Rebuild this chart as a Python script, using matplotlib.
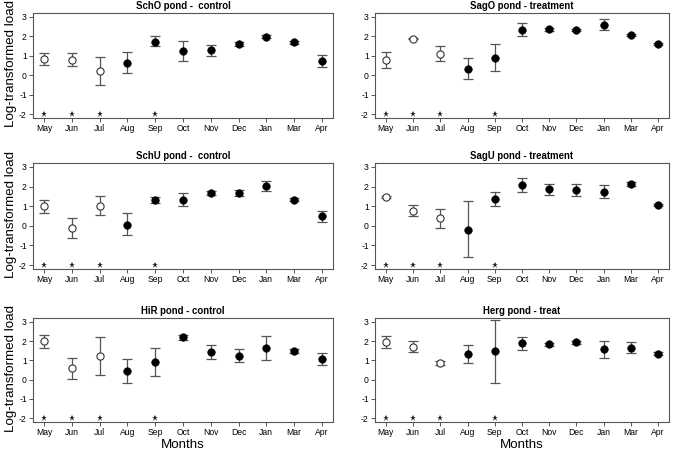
import matplotlib
matplotlib.use("Agg")
import matplotlib.pyplot as plt
import numpy as np

plt.rcParams['font.family'] = ['Liberation Sans', 'DejaVu Sans']
plt.rcParams['axes.unicode_minus'] = False

months = ["May", "Jun", "Jul", "Aug", "Sep", "Oct", "Nov", "Dec", "Jan", "Mar", "Apr"]
n_open = 3  # first three months shown as open circles
star_months = ["May", "Jun", "Jul", "Sep"]

titles = ["SchO pond -  control", "SagO pond - treatment",
          "SchU pond -  control", "SagU pond - treatment",
          "HiR pond - control", "Herg pond - treat"]

schO_mean = [0.83, 0.78, 0.20, 0.65, 1.73, 1.24, 1.29, 1.60, 1.99, 1.70, 0.73]
schO_hi   = [1.14, 1.12, 0.92, 1.19, 2.00, 1.75, 1.58, 1.70, 2.08, 1.78, 1.02]
schO_lo   = [0.54, 0.48, -0.49, 0.14, 1.48, 0.71, 1.00, 1.50, 1.90, 1.62, 0.44]

sagO_mean = [0.78, 1.87, 1.10, 0.34, 0.90, 2.35, 2.36, 2.33, 2.60, 2.06, 1.63]
sagO_hi   = [1.21, 1.90, 1.48, 0.88, 1.62, 2.67, 2.42, 2.40, 2.87, 2.12, 1.68]
sagO_lo   = [0.36, 1.84, 0.73, -0.20, 0.22, 2.02, 2.30, 2.26, 2.33, 2.00, 1.58]

schU_mean = [0.99, -0.10, 1.02, 0.05, 1.31, 1.34, 1.67, 1.67, 2.01, 1.33, 0.48]
schU_hi   = [1.33, 0.41, 1.51, 0.63, 1.45, 1.68, 1.78, 1.80, 2.26, 1.40, 0.75]
schU_lo   = [0.65, -0.61, 0.53, -0.49, 1.17, 0.99, 1.56, 1.54, 1.75, 1.26, 0.20]

sagU_mean = [1.48, 0.77, 0.38, -0.19, 1.37, 2.10, 1.86, 1.83, 1.74, 2.14, 1.06]
sagU_hi   = [1.52, 1.07, 0.87, 1.25, 1.72, 2.46, 2.14, 2.15, 2.07, 2.25, 1.12]
sagU_lo   = [1.44, 0.48, -0.12, -1.59, 1.02, 1.72, 1.57, 1.52, 1.43, 2.03, 1.00]

hiR_mean = [2.01, 0.58, 1.21, 0.44, 0.90, 2.20, 1.45, 1.23, 1.62, 1.50, 1.07]
hiR_hi   = [2.32, 1.14, 2.20, 1.09, 1.62, 2.32, 1.79, 1.59, 2.24, 1.60, 1.40]
hiR_lo   = [1.66, 0.03, 0.22, -0.20, 0.19, 2.08, 1.09, 0.89, 1.00, 1.40, 0.75]

herg_mean = [1.96, 1.72, 0.87, 1.33, 1.48, 1.88, 1.84, 1.93, 1.57, 1.66, 1.35]
herg_hi   = [2.24, 2.02, 0.97, 1.81, 3.10, 2.22, 1.92, 2.02, 2.03, 1.93, 1.44]
herg_lo   = [1.65, 1.43, 0.77, 0.84, -0.17, 1.54, 1.76, 1.84, 1.13, 1.38, 1.26]

panels = [(schO_mean, schO_lo, schO_hi), (sagO_mean, sagO_lo, sagO_hi),
          (schU_mean, schU_lo, schU_hi), (sagU_mean, sagU_lo, sagU_hi),
          (hiR_mean, hiR_lo, hiR_hi), (herg_mean, herg_lo, herg_hi)]

W, H = 675, 451
fig = plt.figure(figsize=(W / 100, H / 100), dpi=100)

col_x = [(33, 333), (375, 669)]
row_y = [(13, 118), (163, 269), (318, 422)]

gray = "#555555"
x = np.arange(1, len(months) + 1)

for i, (mean, lo, hi) in enumerate(panels):
    r, c = divmod(i, 2)
    x0, x1 = col_x[c]
    y0, y1 = row_y[r]
    ax = fig.add_axes([x0 / W, 1 - y1 / H, (x1 - x0) / W, (y1 - y0) / H])
    mean = np.array(mean); lo = np.array(lo); hi = np.array(hi)
    ax.errorbar(x, mean, yerr=[mean - lo, hi - mean], fmt='none',
                ecolor=gray, elinewidth=0.9, capsize=3.6, capthick=0.9, zorder=2)
    ax.plot(x[:n_open], mean[:n_open], 'o', ms=5.2, mfc='white', mec='#333333',
            mew=0.8, zorder=3)
    ax.plot(x[n_open:], mean[n_open:], 'o', ms=5.4, mfc='black', mec='black',
            mew=0.5, zorder=3)
    sx = [months.index(m) + 1 for m in star_months]
    ax.plot(sx, [-2] * len(sx), '*', ms=4.8, color='#222222', mew=0, zorder=3)
    ax.set_xlim(0.6, 11.4)
    ax.set_ylim(-2.2, 3.2)
    ax.set_xticks(x)
    ax.set_xticklabels(months)
    ax.set_yticks([-2, -1, 0, 1, 2, 3])
    ax.tick_params(direction='out', length=3, width=0.7, color=gray,
                   labelsize=6.2, pad=1.5)
    for s in ax.spines.values():
        s.set_color(gray)
        s.set_linewidth(0.8)
    ax.set_title(titles[i], fontsize=6.9, fontweight='bold', pad=3)
    if c == 0:
        fig.text(11 / W, 1 - ((y0 + y1) / 2 - 2) / H, "Log-transformed load",
                 rotation=90, ha='center', va='center', fontsize=9.6)
    if r == 2:
        fig.text(((x0 + x1) / 2) / W, 1 - 445 / H, "Months",
                 ha='center', va='center', fontsize=9.6)

fig.savefig("out.png", dpi=100)
